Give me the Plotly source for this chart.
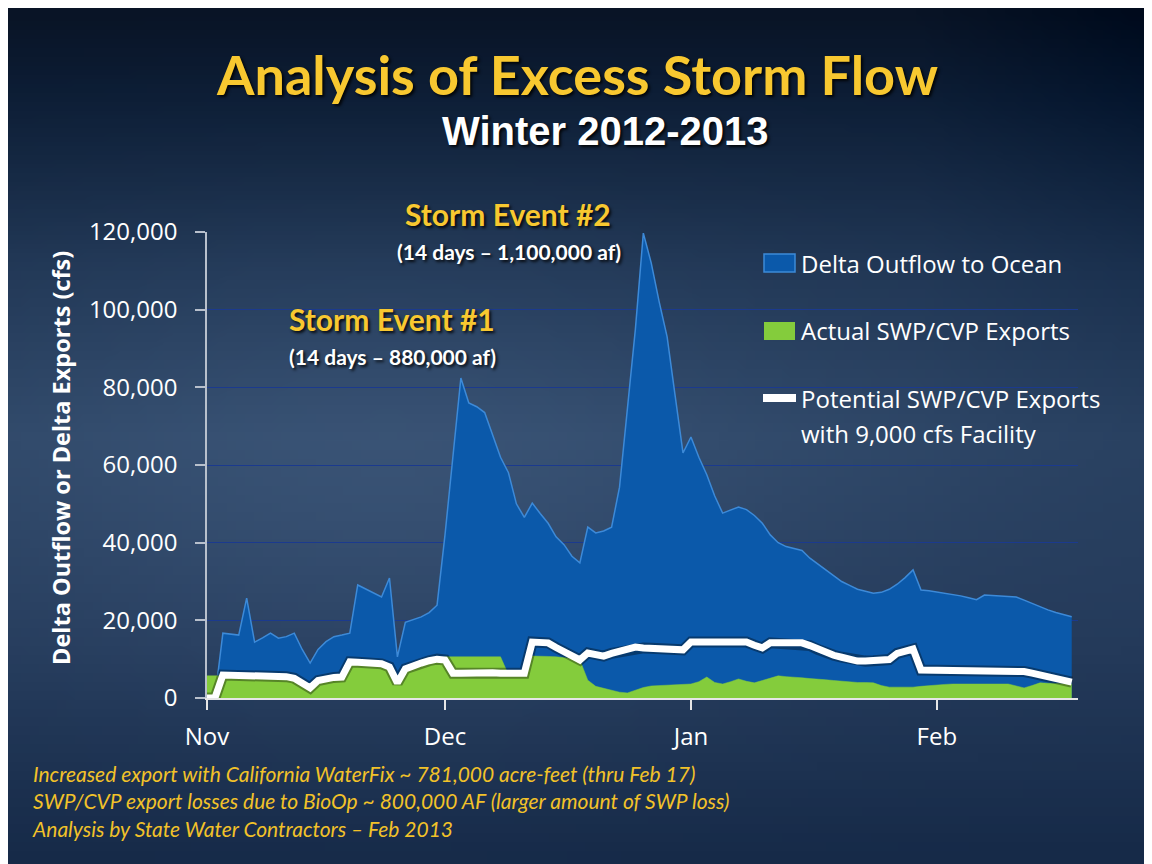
import base64
import struct
import zlib

import numpy as np
import pandas as pd
import plotly.graph_objects as go

# ---------------- data ----------------
start_date = "2012-11-01"
n_days = 110
month_ticks = ["2012-11-01", "2012-12-01", "2013-01-01", "2013-02-01"]
month_labels = ["Nov", "Dec", "Jan", "Feb"]
y_ticks = [0, 20000, 40000, 60000, 80000, 100000, 120000]

delta_outflow = [
    0, 0, 16700, 16500, 16200, 25700, 14400, 15500, 16700, 15400,
    15800, 16700, 12500, 9000, 12500, 14500, 15800, 16200, 16700, 29100,
    28000, 27000, 26000, 30900, 10600, 19500, 20300, 20900, 22000, 23900,
    42000, 62000, 82400, 76000, 75000, 73500, 68000, 62000, 58000, 50000,
    46500, 50200, 47500, 45000, 41500, 39500, 36500, 34800, 44000, 42500,
    43000, 44000, 54300, 74000, 95000, 119700, 112000, 102000, 93000, 78000,
    63100, 67200, 62000, 57500, 52000, 47600, 48500, 49200, 48500, 47000,
    45000, 42000, 40000, 39000, 38500, 38000, 36000, 34500, 33000, 31500,
    30000, 29000, 28000, 27500, 27000, 27200, 28000, 29300, 31000, 33000,
    27800, 27600, 27300, 27000, 26700, 26300, 25800, 25300, 26500, 26400,
    26300, 26200, 26000, 25200, 24300, 23400, 22700, 22000, 21400, 20900,
]

actual_exports = [
    5700, 5700, 5700, 5700, 5700, 5700, 5700, 5700, 5700, 5700,
    5400, 5000, 4000, 2500, 4500, 5000, 5000, 5200, 8800, 8800,
    8800, 8600, 8400, 7600, 3500, 7200, 8000, 8600, 9200, 9600,
    10600, 10600, 10600, 10600, 10600, 10600, 10600, 10600, 6000, 6000,
    6000, 10800, 10800, 10700, 10600, 10400, 10200, 9800, 4600, 3000,
    2500, 2000, 1500, 1300, 2000, 2700, 3100, 3200, 3300, 3400,
    3500, 3600, 4200, 5400, 4000, 3600, 4200, 4900, 4300, 3900,
    4500, 5200, 5700, 5500, 5400, 5200, 5000, 4900, 4700, 4500,
    4300, 4100, 4000, 4000, 3900, 3200, 2800, 2800, 2800, 2800,
    3000, 3200, 3400, 3500, 3600, 3600, 3600, 3600, 3600, 3600,
    3600, 3600, 3100, 2600, 3200, 3900, 3800, 3700, 3700, 3600,
]

potential_exports = [
    0, 0, 5900, 5900, 5900, 5900, 5900, 5900, 5900, 5900,
    5500, 5100, 4000, 2600, 4500, 5100, 5300, 5400, 9300, 9200,
    9100, 9000, 8800, 8000, 3900, 7500, 8400, 9000, 9600, 10000,
    9800, 6400, 6400, 6500, 6500, 6500, 6500, 6400, 6400, 6400,
    6400, 14400, 14400, 14200, 13000, 11800, 10600, 9800, 11600, 11300,
    10800, 11500, 12000, 12400, 13100, 12900, 12800, 12700, 12600, 12500,
    12400, 14400, 14400, 14400, 14400, 14400, 14400, 14400, 14400, 13600,
    12900, 14200, 14200, 14200, 14200, 14200, 13500, 12500, 11500, 11000,
    10500, 10000, 9500, 9500, 9600, 9700, 9900, 11500, 12000, 12600,
    7200, 7200, 7200, 7200, 7200, 7200, 7200, 7200, 7200, 7200,
    7200, 7200, 7200, 6800, 6400, 6000, 5500, 5000, 4600, 4100,
]

series_names = [
    "Delta Outflow to Ocean",
    "Actual SWP/CVP Exports",
    "Potential SWP/CVP Exports",
    "with 9,000 cfs Facility",
]
footer_lines = [
    "Increased export with California WaterFix ~ 781,000 acre-feet (thru Feb 17)",
    "SWP/CVP export losses due to BioOp ~ 800,000 AF (larger amount of SWP loss)",
    "Analysis by State Water Contractors \u2013 Feb 2013",
]

dates = pd.date_range(start_date, periods=n_days, freq="D")

# ---------------- geometry (screen pixels; page has an 8px body margin) ----------------
OFF = 8
W, H = 1144, 856
L, T = 207 - OFF, 232 - OFF
PW, PH = 871, 466
R, B = W - L - PW, H - T - PH


def px(x):
    return (x - OFF - L) / PW


def py(y):
    return (T + PH - (y - OFF)) / PH


# ---------------- background gradient image ----------------
def background_png():
    w, h = 128, 96
    u = np.linspace(0, 1, w)[None, :]
    v = np.linspace(0, 1, h)[:, None]
    stops = [0.0, 0.1, 0.3, 0.5, 0.75, 1.0]
    cols = np.array([(9, 20, 38), (13, 30, 54), (32, 54, 84), (44, 68, 100),
                     (36, 58, 90), (22, 42, 72)], dtype=float)
    img = np.zeros((h, w, 3))
    for c in range(3):
        img[:, :, c] = np.interp(v[:, 0], stops, cols[:, c])[:, None]
    glow = np.exp(-(((u - 0.33) / 0.38) ** 2 + ((v - 0.55) / 0.28) ** 2))
    img += glow[:, :, None] * np.array([14, 16, 18])
    dark_r = np.clip((u - 0.8) / 0.2, 0, 1) * np.clip(1 - v * 1.4, 0, 1)
    img -= dark_r[:, :, None] * 10
    img = np.clip(img, 0, 255).astype(np.uint8)
    raw = b"".join(b"\x00" + img[r].tobytes() for r in range(h))

    def chunk(tag, data):
        c = struct.pack(">I", len(data)) + tag + data
        return c + struct.pack(">I", zlib.crc32(tag + data) & 0xFFFFFFFF)

    png = b"\x89PNG\r\n\x1a\n"
    png += chunk(b"IHDR", struct.pack(">IIBBBBB", w, h, 8, 2, 0, 0, 0))
    png += chunk(b"IDAT", zlib.compress(raw, 9))
    png += chunk(b"IEND", b"")
    return "data:image/png;base64," + base64.b64encode(png).decode()


# ---------------- figure ----------------
BLUE = "#0b59aa"
BLUE_EDGE = "#3d8ad8"
GREEN = "#84cc3c"
GOLD = "#f8c830"
SHADOW = "2px 2px 3px rgba(0,0,0,0.85)"

fig = go.Figure()
fig.add_trace(go.Scatter(
    x=dates, y=delta_outflow, name=series_names[0], mode="lines",
    line=dict(color=BLUE_EDGE, width=1.5), fill="tozeroy", fillcolor=BLUE,
    showlegend=False,
))
fig.add_trace(go.Scatter(
    x=dates, y=actual_exports, name=series_names[1], mode="lines",
    line=dict(color=GREEN, width=0.5), fill="tozeroy", fillcolor=GREEN,
    showlegend=False,
))
fig.add_trace(go.Scatter(
    x=dates, y=potential_exports, mode="lines", hoverinfo="skip",
    line=dict(color="rgba(0,0,0,0.35)", width=11), showlegend=False,
))
fig.add_trace(go.Scatter(
    x=dates, y=potential_exports, name=series_names[2] + " " + series_names[3],
    mode="lines", line=dict(color="white", width=7), showlegend=False,
))

annotations = []
# titles
annotations.append(dict(
    text="<b>Analysis of Excess Storm Flow</b>", x=px(577), y=py(74),
    xref="paper", yref="paper", showarrow=False, xanchor="center", yanchor="middle",
    font=dict(family="Lato", size=54, color=GOLD, shadow=SHADOW),
))
annotations.append(dict(
    text="<b>Winter 2012-2013</b>", x=px(605), y=py(131),
    xref="paper", yref="paper", showarrow=False, xanchor="center", yanchor="middle",
    font=dict(family="Liberation Sans", size=40, color="white", shadow=SHADOW),
))
# storm events
annotations.append(dict(
    text="<b>Storm Event #1</b>", x=px(392), y=py(319),
    xref="paper", yref="paper", showarrow=False, xanchor="center", yanchor="middle",
    font=dict(family="Lato", size=30, color=GOLD, shadow=SHADOW),
))
annotations.append(dict(
    text="<b>(14 days \u2013 880,000 af)</b>", x=px(392), y=py(356),
    xref="paper", yref="paper", showarrow=False, xanchor="center", yanchor="middle",
    font=dict(family="Lato", size=21, color="white", shadow=SHADOW),
))
annotations.append(dict(
    text="<b>Storm Event #2</b>", x=px(508), y=py(214),
    xref="paper", yref="paper", showarrow=False, xanchor="center", yanchor="middle",
    font=dict(family="Lato", size=30, color=GOLD, shadow=SHADOW),
))
annotations.append(dict(
    text="<b>(14 days \u2013 1,100,000 af)</b>", x=px(509), y=py(251),
    xref="paper", yref="paper", showarrow=False, xanchor="center", yanchor="middle",
    font=dict(family="Lato", size=21, color="white", shadow=SHADOW),
))
# legend text
leg_font = dict(family="Open Sans", size=24, color="white")
for name, yc in zip(series_names, [263, 330, 398, 433]):
    annotations.append(dict(
        text=name, x=px(799), y=py(yc), xref="paper", yref="paper",
        showarrow=False, xanchor="left", yanchor="middle", font=leg_font,
    ))
# footer (one multi-line text)
annotations.append(dict(
    text="<br>".join("<i>" + line + "</i>" for line in footer_lines),
    x=px(30), y=py(801), xref="paper", yref="paper",
    showarrow=False, xanchor="left", yanchor="middle", align="left",
    font=dict(family="Lato", size=21, color="#f2c229"),
))
# y-axis title
annotations.append(dict(
    text="<b>Delta Outflow or Delta Exports (cfs)</b>", x=px(61), y=py(458),
    xref="paper", yref="paper", showarrow=False, textangle=-90,
    xanchor="center", yanchor="middle",
    font=dict(family="Open Sans", size=23.5, color="white"),
))

shapes = [
    # legend swatches
    dict(type="rect", xref="paper", yref="paper", x0=px(764), x1=px(795), y0=py(272), y1=py(254),
         fillcolor=BLUE, line=dict(color=BLUE_EDGE, width=1.5)),
    dict(type="rect", xref="paper", yref="paper", x0=px(764), x1=px(795), y0=py(340), y1=py(322),
         fillcolor=GREEN, line=dict(width=0)),
    dict(type="line", xref="paper", yref="paper", x0=px(763), x1=px(796), y0=py(398), y1=py(398),
         line=dict(color="white", width=8)),
]

fig.update_layout(
    width=W, height=H,
    margin=dict(l=L, r=R, t=T, b=B, autoexpand=False),
    paper_bgcolor="#1a3050",
    plot_bgcolor="rgba(0,0,0,0)",
    showlegend=False,
    annotations=annotations,
    shapes=shapes,
    images=[dict(
        source=background_png(), xref="paper", yref="paper",
        x=-L / PW, y=1 + T / PH, sizex=W / PW, sizey=H / PH,
        xanchor="left", yanchor="top", sizing="stretch", layer="below",
    )],
    xaxis=dict(
        type="date",
        range=["2012-11-01", "2013-02-18 19:00"],
        tickvals=month_ticks, ticktext=month_labels,
        ticks="outside", ticklen=10, tickcolor="#e6e6e6", tickwidth=1.5,
        showline=True, linecolor="#e6e6e6", linewidth=1.5,
        showgrid=False, zeroline=False,
        tickfont=dict(family="Open Sans", size=24, color="white"),
        ticklabelstandoff=6,
    ),
    yaxis=dict(
        range=[0, 120000], tickvals=y_ticks, tickformat=",d",
        ticks="outside", ticklen=10, tickcolor="#b8c0cc", tickwidth=1.5,
        showline=True, linecolor="#b8c0cc", linewidth=1.5,
        showgrid=True, gridcolor="#1b3a8e", gridwidth=1,
        zeroline=False,
        tickfont=dict(family="Open Sans", size=24, color="white"),
        ticklabelstandoff=13,
    ),
)

fig.write_html("out.html")
